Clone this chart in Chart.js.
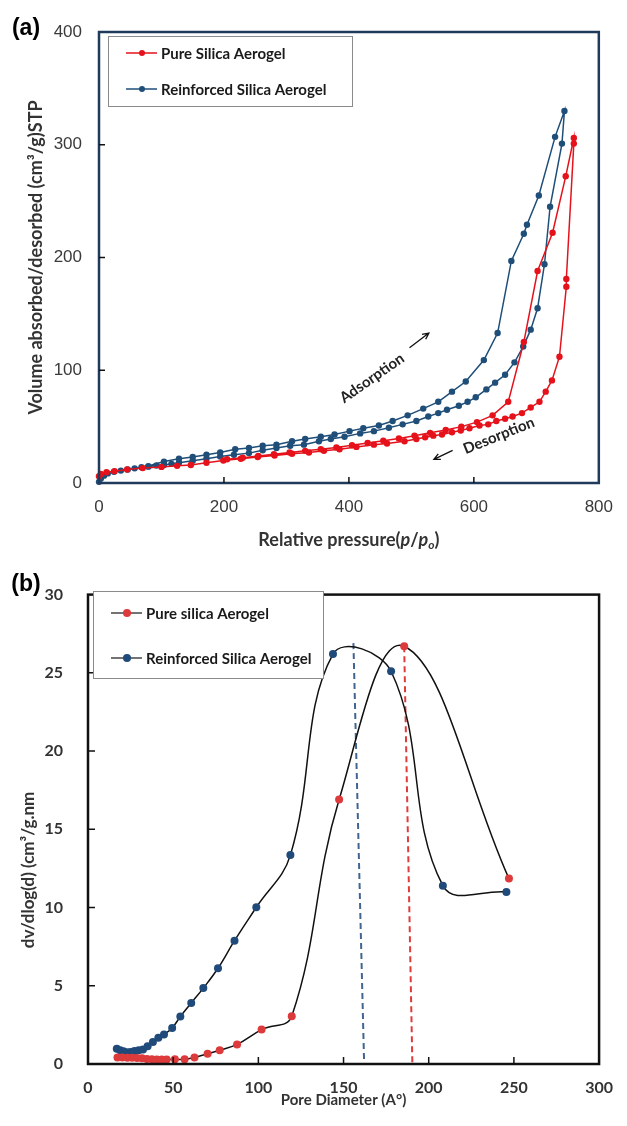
<!DOCTYPE html>
<html>
<head>
<meta charset="utf-8">
<script src="https://cdn.jsdelivr.net/npm/chart.js@4.4.1/dist/chart.umd.min.js"></script>
<style>
    body { margin: 0; background: #fff; }
    canvas { display: block; }
</style>
</head>
<body>
<canvas id="bieu-do-a" width="627" height="560"></canvas>
<canvas id="bieu-do-b" width="627" height="566"></canvas>
<script>
// (a) duong dang nhiet - pure silica aerogel
const apSuatHapPhuSach  = [0, 3, 12, 25, 45, 70, 100, 125, 147, 172, 199, 227, 254, 281, 309, 336, 360, 385, 412, 440, 461, 489, 508, 522, 535, 549, 565, 579, 593, 609, 623, 636, 650, 662, 677, 691, 705, 715, 725, 737, 748, 748, 760];
const theTichHapPhuSach = [6, 8, 9.5, 10.5, 12, 13.2, 14.3, 15.2, 16, 18, 20, 21.5, 23, 24.4, 26, 27, 28.5, 30, 32, 34, 35, 37, 39, 40.6, 42, 43, 45, 46.5, 48.5, 51, 52, 55, 57, 59, 62, 67, 72, 81, 91, 112, 174, 181, 301];
const apSuatGiaiHapSach  = [760, 747, 726, 702, 680, 655, 630, 605, 580, 555, 530, 505, 480, 455, 430, 405, 380, 355, 330, 305, 280, 255, 230, 205];
const theTichGiaiHapSach = [306, 272, 222, 188, 125, 72, 60, 54, 50, 47, 44.5, 42, 39.5, 37.5, 35.5, 33.5, 31.5, 30, 28.5, 27, 25.5, 24, 22.5, 21];

// (a) duong dang nhiet - reinforced silica aerogel
const apSuatHapPhuGC  = [0, 3, 8, 14, 24, 35, 46, 57, 68, 79, 92, 104, 116, 128, 150, 172, 194, 216, 240, 262, 284, 306, 328, 352, 371, 393, 418, 440, 464, 486, 508, 527, 543, 557, 576, 590, 603, 620, 634, 650, 665, 679, 691, 702, 713, 722, 741, 745];
const theTichHapPhuGC = [1, 4, 6.5, 8.5, 10, 11, 12, 13, 14, 14.5, 15.5, 16, 17, 18, 19.7, 21.5, 23.5, 25, 26.5, 29, 31, 33, 34, 37, 39, 41, 44, 46, 49, 52, 55, 59, 62, 65, 68.5, 72, 76, 83, 89, 96, 107, 121, 136, 155, 194, 245, 301, 330];
const apSuatGiaiHapGC  = [730, 704, 685, 680, 660, 638, 616, 587, 565, 543, 519, 494, 470, 448, 423, 401, 377, 355, 330, 309, 284, 262, 240, 218, 194, 172, 150, 128, 104, 79];
const theTichGiaiHapGC = [307, 255, 229, 221, 197, 133, 109, 90, 81, 72, 66, 60, 55, 51, 48.5, 46, 43, 41, 39, 37, 34, 33, 31, 30, 27, 25, 23, 21.5, 19, 15];

const nhanTrucApSuat = [0, 200, 400, 600, 800];
const nhanTrucTheTich = [0, 100, 200, 300, 400];

// (b) phan bo kich thuoc lo
const duongKinhSach = [17.3, 20.2, 23.1, 25.9, 28.8, 31.7, 34.6, 37.5, 40.4, 43.3, 46.2, 51, 56.7, 62.5, 70.2, 77.3, 87.5, 101.9, 119.6, 147.4, 185.6, 247.1];
const dvSach        = [0.42, 0.42, 0.4, 0.4, 0.38, 0.36, 0.32, 0.3, 0.29, 0.28, 0.28, 0.3, 0.3, 0.42, 0.65, 0.88, 1.25, 2.2, 3.05, 16.9, 26.7, 11.85];
const duongKinhGC = [16.9, 18.9, 20.8, 22.7, 25, 27.3, 29.8, 32.3, 35, 38.1, 41.3, 44.6, 49.4, 54.2, 60.6, 67.7, 76.3, 86, 98.8, 118.8, 143.8, 177.9, 208.3, 245.6];
const dvGC        = [0.98, 0.88, 0.82, 0.75, 0.77, 0.83, 0.88, 0.92, 1.13, 1.4, 1.67, 1.88, 2.3, 3.03, 3.9, 4.85, 6.12, 7.88, 10.02, 13.35, 26.2, 25.1, 11.4, 11.0];

// duong dut tai dinh
const dinhSachX = [185.6, 190.4];
const dinhSachY = [26.7, 0];
const dinhGCX = [155.8, 162.1];
const dinhGCY = [26.9, 0];

const nhanTrucDuongKinh = [0, 50, 100, 150, 200, 250, 300];
const nhanTrucDv = [0, 5, 10, 15, 20, 25, 30];

const mauDoA = "#e5121b";
const mauXanhA = "#1f4e79";
const mauDoB = "#dd3a3c";
const mauXanhB = "#1f4a7a";

function ghepDiem(xs, ys) {
    const kq = [];
    for (let i = 0; i < xs.length; i++) {
        kq.push({ x: xs[i], y: ys[i] });
    }
    return kq;
}

function veMuiTen(ctx, x1, y1, x2, y2) {
    const goc = Math.atan2(y2 - y1, x2 - x1);
    ctx.beginPath();
    ctx.moveTo(x1, y1);
    ctx.lineTo(x2, y2);
    ctx.moveTo(x2 - 7 * Math.cos(goc - 0.45), y2 - 7 * Math.sin(goc - 0.45));
    ctx.lineTo(x2, y2);
    ctx.lineTo(x2 - 7 * Math.cos(goc + 0.45), y2 - 7 * Math.sin(goc + 0.45));
    ctx.stroke();
}

function veChuXoay(ctx, chu, x, y, doXoay) {
    ctx.save();
    ctx.translate(x, y);
    ctx.rotate(doXoay * Math.PI / 180);
    ctx.textAlign = "center";
    ctx.textBaseline = "middle";
    ctx.fillText(chu, 0, 0);
    ctx.restore();
}

//chu giai
function veChuGiai(ctx, chart, hop, cacHang, mauDuong, banKinh) {
    ctx.fillStyle = "#fff";
    ctx.fillRect(hop.x, hop.y, hop.w, hop.h);
    ctx.strokeStyle = "#8a8a8a";
    ctx.lineWidth = 1;
    ctx.strokeRect(hop.x + 0.5, hop.y + 0.5, hop.w, hop.h);
    for (let i = 0; i < cacHang.length; i++) {
        const ds = chart.data.datasets[i];
        const y = cacHang[i];
        ctx.strokeStyle = mauDuong || ds.pointBackgroundColor;
        ctx.lineWidth = 1.5;
        ctx.beginPath();
        ctx.moveTo(hop.x + 18, y);
        ctx.lineTo(hop.x + 49, y);
        ctx.stroke();
        ctx.fillStyle = ds.pointBackgroundColor;
        ctx.beginPath();
        ctx.arc(hop.x + 34, y, banKinh, 0, Math.PI * 2);
        ctx.fill();
        ctx.fillStyle = "#1a1a1a";
        ctx.font = "bold 15px Lato";
        ctx.textAlign = "left";
        ctx.textBaseline = "middle";
        ctx.fillText(ds.label, hop.x + 53, y + 1);
    }
}

function veVachTrong(ctx, chart, nhanX, nhanY, dai) {
    const { left, right, top, bottom } = chart.chartArea;
    ctx.beginPath();
    for (const v of nhanX) {
        const x = chart.scales.x.getPixelForValue(v);
        if (x <= left + 1 || x >= right - 1) continue;
        ctx.moveTo(x, bottom);
        ctx.lineTo(x, bottom - dai);
    }
    for (const v of nhanY) {
        const y = chart.scales.y.getPixelForValue(v);
        if (y <= top + 1 || y >= bottom - 1) continue;
        ctx.moveTo(left, y);
        ctx.lineTo(left + dai, y);
    }
    ctx.stroke();
}

const trangTriA = {
    id: "trangTriA",
    afterDatasetsDraw(chart) {
        const ctx = chart.ctx;
        const { left, right, top, bottom } = chart.chartArea;
        const sx = chart.scales.x;
        const sy = chart.scales.y;
        ctx.save();

        ctx.strokeStyle = "#1f3a5a";
        ctx.lineWidth = 2.5;
        ctx.strokeRect(left, top, right - left, bottom - top);
        ctx.strokeStyle = "#111";
        ctx.lineWidth = 1.5;
        veVachTrong(ctx, chart, nhanTrucApSuat, nhanTrucTheTich, 6);

        veChuGiai(ctx, chart, { x: 108, y: 36, w: 244, h: 70 }, [53, 89], null, 3);

        // chu thich hap phu / giai hap
        ctx.fillStyle = "#222";
        ctx.font = "bold 15px Lato";
        veChuXoay(ctx, "Adsorption", sx.getPixelForValue(437), sy.getPixelForValue(93), -35);
        veChuXoay(ctx, "Desorption", sx.getPixelForValue(640), sy.getPixelForValue(42), -22);
        ctx.strokeStyle = "#111";
        ctx.lineWidth = 1.3;
        veMuiTen(ctx, sx.getPixelForValue(497), sy.getPixelForValue(120), sx.getPixelForValue(528), sy.getPixelForValue(133));
        veMuiTen(ctx, sx.getPixelForValue(566), sy.getPixelForValue(29), sx.getPixelForValue(536), sy.getPixelForValue(21));

        // tieu de truc x co chu nghieng
        const phan = [
            { t: "Relative pressure(", f: "bold 18px Lato", dy: 0 },
            { t: "p", f: "italic bold 18px Lato", dy: 0 },
            { t: "/", f: "bold 18px Lato", dy: 0 },
            { t: "p", f: "italic bold 18px Lato", dy: 0 },
            { t: "o", f: "italic bold 12px Lato", dy: 5 },
            { t: ")", f: "bold 18px Lato", dy: 0 }
        ];
        let tong = 0;
        for (const p of phan) { ctx.font = p.f; tong += ctx.measureText(p.t).width; }
        let x = (left + right) / 2 - tong / 2;
        ctx.fillStyle = "#333";
        ctx.textAlign = "left";
        ctx.textBaseline = "middle";
        for (const p of phan) {
            ctx.font = p.f;
            ctx.fillText(p.t, x, 540 + p.dy);
            x += ctx.measureText(p.t).width;
        }

        ctx.fillStyle = "#000";
        ctx.font = "bold 23px 'Liberation Sans'";
        ctx.textAlign = "center";
        ctx.fillText("(a)", 26, 29);
        ctx.restore();
    }
};

const trangTriB = {
    id: "trangTriB",
    afterDatasetsDraw(chart) {
        const ctx = chart.ctx;
        const { left, right, top, bottom } = chart.chartArea;
        ctx.save();
        ctx.strokeStyle = "#111";
        ctx.lineWidth = 2.5;
        ctx.strokeRect(left, top, right - left, bottom - top);
        ctx.lineWidth = 1.5;
        veVachTrong(ctx, chart, nhanTrucDuongKinh, nhanTrucDv, 7);

        veChuGiai(ctx, chart, { x: 93, y: 31, w: 230, h: 87 }, [53, 98], "#444", 4);

        ctx.fillStyle = "#333";
        ctx.font = "bold 17px Lato";
        veChuXoay(ctx, "dv/dlog(d) (cm³/g.nm", 29, 310, -90);

        ctx.fillStyle = "#000";
        ctx.font = "bold 23px 'Liberation Sans'";
        ctx.textAlign = "center";
        ctx.textBaseline = "middle";
        ctx.fillText("(b)", 26, 25);
        ctx.restore();
    }
};

function veBieuDoA() {
    const diemSach = ghepDiem(apSuatHapPhuSach.concat(apSuatGiaiHapSach), theTichHapPhuSach.concat(theTichGiaiHapSach));
    const diemGC = ghepDiem(apSuatHapPhuGC.concat(apSuatGiaiHapGC), theTichHapPhuGC.concat(theTichGiaiHapGC));
    const chuSo = { family: "'Liberation Sans'", size: 17 };

    new Chart(document.getElementById("bieu-do-a"), {
        type: "scatter",
        data: {
            datasets: [
                { label: "Pure Silica Aerogel", data: diemSach, showLine: true, borderColor: mauDoA, borderWidth: 1.5,
                  pointRadius: 3.2, pointBackgroundColor: mauDoA, pointBorderColor: mauDoA, pointBorderWidth: 0, clip: 5 },
                { label: "Reinforced Silica Aerogel", data: diemGC, showLine: true, borderColor: mauXanhA, borderWidth: 1.5,
                  pointRadius: 3.2, pointBackgroundColor: mauXanhA, pointBorderColor: mauXanhA, pointBorderWidth: 0, clip: 5 }
            ]
        },
        options: {
            responsive: false,
            devicePixelRatio: 1,
            animation: false,
            layout: { padding: { top: 32, right: 18, left: 0, bottom: 0 } },
            plugins: { legend: { display: false }, tooltip: { enabled: false } },
            scales: {
                x: {
                    type: "linear",
                    min: nhanTrucApSuat[0],
                    max: nhanTrucApSuat[nhanTrucApSuat.length - 1],
                    ticks: { stepSize: nhanTrucApSuat[1] - nhanTrucApSuat[0], padding: 14, font: chuSo, color: "#3a3a3a", maxRotation: 0 },
                    grid: { display: false, drawTicks: false },
                    border: { display: false },
                    afterFit(s) { s.height = 77; }
                },
                y: {
                    min: nhanTrucTheTich[0],
                    max: nhanTrucTheTich[nhanTrucTheTich.length - 1],
                    ticks: { stepSize: nhanTrucTheTich[1] - nhanTrucTheTich[0], padding: 17, font: chuSo, color: "#3a3a3a" },
                    grid: { display: false, drawTicks: false },
                    border: { display: false },
                    title: { display: true, text: "Volume absorbed/desorbed (cm³/g)STP", color: "#333",
                             font: { family: "Lato", weight: "bold", size: 18 }, padding: { top: 25, bottom: 0 } },
                    afterFit(s) { s.width = 99; }
                }
            }
        },
        plugins: [trangTriA]
    });
}

function veBieuDoB() {
    const chuSo = { family: "Lato", weight: "bold", size: 16 };
    const duongCong = { showLine: true, tension: 0.4, borderColor: "#111", borderWidth: 1.5,
                        pointRadius: 4, pointBorderWidth: 0, clip: 6, order: 1 };

    new Chart(document.getElementById("bieu-do-b"), {
        type: "scatter",
        data: {
            datasets: [
                Object.assign({ label: "Pure silica Aerogel", data: ghepDiem(duongKinhSach, dvSach),
                                pointBackgroundColor: mauDoB, pointBorderColor: mauDoB }, duongCong),
                Object.assign({ label: "Reinforced Silica Aerogel", data: ghepDiem(duongKinhGC, dvGC),
                                pointBackgroundColor: mauXanhB, pointBorderColor: mauXanhB }, duongCong),
                { data: ghepDiem(dinhSachX, dinhSachY), showLine: true, borderColor: "#e03a3a", borderWidth: 2,
                  borderDash: [6, 4], pointRadius: 0, order: 2 },
                { data: ghepDiem(dinhGCX, dinhGCY), showLine: true, borderColor: "#3f6590", borderWidth: 2,
                  borderDash: [6, 4], pointRadius: 0, order: 2 }
            ]
        },
        options: {
            responsive: false,
            devicePixelRatio: 1,
            animation: false,
            layout: { padding: { top: 26, right: 16, left: 0, bottom: 0 } },
            plugins: { legend: { display: false }, tooltip: { enabled: false } },
            scales: {
                x: {
                    type: "linear",
                    min: nhanTrucDuongKinh[0],
                    max: nhanTrucDuongKinh[nhanTrucDuongKinh.length - 1],
                    ticks: { stepSize: nhanTrucDuongKinh[1] - nhanTrucDuongKinh[0], padding: 14, font: chuSo, color: "#333", maxRotation: 0, autoSkip: false },
                    grid: { display: false, drawTicks: false },
                    border: { display: false },
                    title: { display: true, text: "Pore Diameter (A°)", color: "#333",
                             font: { family: "Lato", weight: "bold", size: 15 }, padding: { top: 0, bottom: 17 } },
                    afterFit(s) { s.height = 62; }
                },
                y: {
                    min: nhanTrucDv[0],
                    max: nhanTrucDv[nhanTrucDv.length - 1],
                    ticks: { stepSize: nhanTrucDv[1] - nhanTrucDv[0], padding: 25, font: chuSo, color: "#333", autoSkip: false },
                    grid: { display: false, drawTicks: false },
                    border: { display: false },
                    afterFit(s) { s.width = 88; }
                }
            }
        },
        plugins: [trangTriB]
    });
}

veBieuDoA();
veBieuDoB();
</script>
</body>
</html>
